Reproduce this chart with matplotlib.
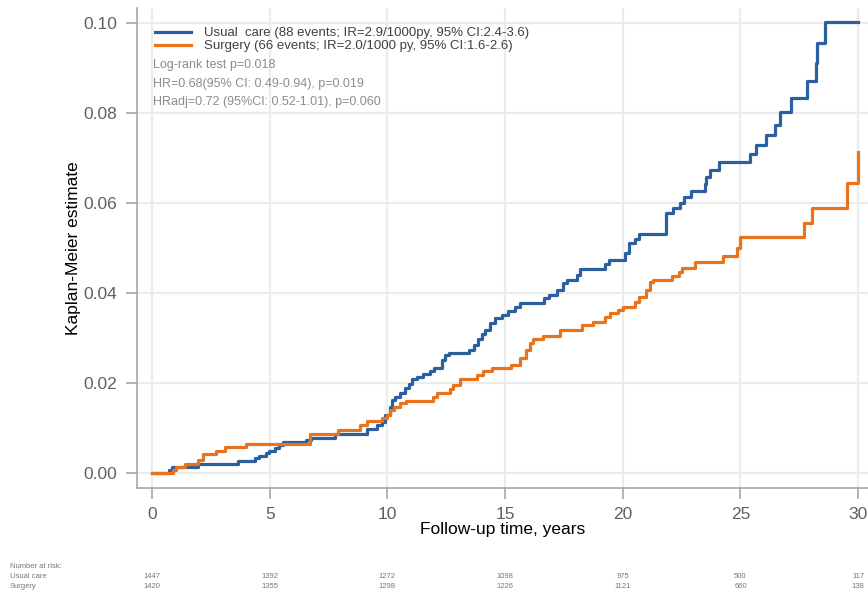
import numpy as np
import matplotlib
matplotlib.use("Agg")
import matplotlib.pyplot as plt
import matplotlib.transforms as mtransforms

plt.rcParams['font.family'] = ['Liberation Sans', 'DejaVu Sans']

# Kaplan-Meier cumulative incidence (time in years)
usual_t = [0, 0.72, 0.85, 1.95, 3.64, 4.36, 4.55, 4.84, 4.98, 5.22, 5.4, 5.55,
           6.55, 6.75, 7.78, 9.13, 9.55, 9.76, 9.9, 10.09, 10.2, 10.33, 10.54,
           10.75, 10.9, 11.04, 11.25, 11.53, 11.8, 12.0, 12.3, 12.45, 12.6,
           13.45, 13.66, 13.87, 14.0, 14.15, 14.34, 14.56, 14.86, 15.14, 15.43,
           15.64, 16.64, 16.85, 17.2, 17.48, 17.65, 18.05, 18.19, 19.25, 19.4,
           20.1, 20.25, 20.5, 20.7, 21.85, 22.12, 22.43, 22.62, 22.92, 23.5,
           23.55, 23.72, 24.1, 25.4, 25.68, 26.08, 26.47, 26.68, 27.14, 27.82,
           28.2, 28.25, 28.6, 30.0]
usual_km = [0, 0.0007, 0.0013, 0.0021, 0.0027, 0.0033, 0.0038, 0.0044, 0.0049,
            0.0056, 0.0062, 0.0069, 0.0073, 0.0079, 0.0088, 0.0099, 0.0107,
            0.0114, 0.0129, 0.0147, 0.0162, 0.0170, 0.0177, 0.0188, 0.0199,
            0.0209, 0.0214, 0.0221, 0.0227, 0.0233, 0.0251, 0.0262, 0.0267,
            0.0273, 0.0284, 0.0297, 0.0309, 0.0318, 0.0333, 0.0344, 0.0351,
            0.0361, 0.0370, 0.0377, 0.0388, 0.0396, 0.0407, 0.0422, 0.0429,
            0.0440, 0.0453, 0.0464, 0.0473, 0.0490, 0.0510, 0.0520, 0.0532,
            0.0577, 0.0588, 0.0601, 0.0614, 0.0627, 0.0642, 0.0658, 0.0673,
            0.0690, 0.0709, 0.0729, 0.0751, 0.0773, 0.0801, 0.0833, 0.0870,
            0.0911, 0.0955, 0.1001, 0.1001]

surg_t = [0, 0.9, 1.0, 1.38, 1.95, 2.16, 2.73, 3.08, 4.0, 6.7, 7.92, 8.84, 9.12,
          9.76, 9.97, 10.1, 10.3, 10.52, 10.8, 11.95, 12.1, 12.65, 12.8, 13.1,
          13.8, 14.08, 14.44, 15.25, 15.64, 15.9, 16.07, 16.2, 16.6, 17.32,
          18.26, 18.75, 19.25, 19.46, 19.8, 20.03, 20.53, 20.7, 21.0, 21.16,
          21.3, 22.08, 22.37, 22.5, 23.07, 24.27, 24.84, 24.98, 27.7, 28.03,
          29.52, 30.0]
surg_km = [0, 0.0007, 0.0014, 0.0021, 0.0029, 0.0042, 0.0050, 0.0057, 0.0064,
           0.0086, 0.0096, 0.0107, 0.0116, 0.0122, 0.0129, 0.0140, 0.0147,
           0.0155, 0.0161, 0.0170, 0.0177, 0.0186, 0.0196, 0.0208, 0.0218,
           0.0226, 0.0233, 0.0241, 0.0255, 0.0273, 0.0288, 0.0297, 0.0304,
           0.0318, 0.0329, 0.0336, 0.0347, 0.0355, 0.0362, 0.0370, 0.0381,
           0.0392, 0.0407, 0.0425, 0.0429, 0.0438, 0.0446, 0.0455, 0.0470,
           0.0482, 0.0499, 0.0525, 0.0556, 0.0589, 0.0645, 0.0714]

risk_times = [0, 5, 10, 15, 20, 25, 30]
risk_usual = [1447, 1392, 1272, 1098, 975, 500, 117]
risk_surg = [1420, 1355, 1298, 1226, 1121, 660, 138]

labels = ["Usual  care (88 events; IR=2.9/1000py, 95% CI:2.4-3.6)",
          "Surgery (66 events; IR=2.0/1000 py, 95% CI:1.6-2.6)"]
stats_text = ["Log-rank test p=0.018",
              "HR=0.68(95% CI: 0.49-0.94), p=0.019",
              "HRadj=0.72 (95%CI: 0.52-1.01), p=0.060"]

blue = '#2a5fa0'
orange = '#e8731c'
grey = '#8c8c8c'

W, H = 868, 594
fig = plt.figure(figsize=(W / 100, H / 100), dpi=100)
ax = fig.add_axes([137 / W, 1 - 488 / H, (W - 137) / W, (488 - 8) / H])

ax.step(usual_t, usual_km, where='post', color=blue, lw=2.3, label=labels[0])
ax.step(surg_t, surg_km, where='post', color=orange, lw=2.3, label=labels[1])

ax.set_xlim(-0.64, 30.42)
ax.set_ylim(-0.0033, 0.1033)
ax.set_xticks(risk_times)
ax.set_yticks([0, 0.02, 0.04, 0.06, 0.08, 0.10])
ax.set_yticklabels(['0.00', '0.02', '0.04', '0.06', '0.08', '0.10'])
ax.grid(True, color='#ececec', lw=1.6)
ax.set_axisbelow(True)
for s in ['top', 'right']:
    ax.spines[s].set_visible(False)
for s in ['left', 'bottom']:
    ax.spines[s].set_color('#a6a6a6')
    ax.spines[s].set_linewidth(1.2)
ax.tick_params(direction='out', length=8, width=1.2, color='#a6a6a6',
               labelcolor='#606060', labelsize=12.5, pad=6)

ax.set_ylabel('Kaplan-Meier estimate', fontsize=12.5, labelpad=2)
ax.set_xlabel('Follow-up time, years', fontsize=12.5, labelpad=0)

leg = ax.legend(loc='upper left', bbox_to_anchor=(155 / W, 1 - 27 / H),
                bbox_transform=fig.transFigure, frameon=False,
                fontsize=9.5, handlelength=2.7, handletextpad=1.0,
                labelspacing=0.05, borderaxespad=0.0, borderpad=0.0)
for t in leg.get_texts():
    t.set_color('#404040')

for i, y in enumerate([65, 84, 102]):
    fig.text(153 / W, 1 - y / H, stats_text[i], fontsize=9, color=grey,
             va='center', ha='left')

# number at risk table under the axis
trans = mtransforms.blended_transform_factory(ax.transData, fig.transFigure)
fig.text(10 / W, 1 - 567 / H, 'Number at risk:', fontsize=5.5, color='#777777',
         va='center')
fig.text(10 / W, 1 - 577 / H, 'Usual care', fontsize=5.5, color='#777777',
         va='center')
fig.text(10 / W, 1 - 587 / H, 'Surgery', fontsize=5.5, color='#777777',
         va='center')
for t, a, b in zip(risk_times, risk_usual, risk_surg):
    ax.text(t, 1 - 577 / H, str(a), transform=trans, fontsize=5.5,
            color='#777777', ha='center', va='center', clip_on=False)
    ax.text(t, 1 - 587 / H, str(b), transform=trans, fontsize=5.5,
            color='#777777', ha='center', va='center', clip_on=False)

fig.savefig('out.png', dpi=100)
